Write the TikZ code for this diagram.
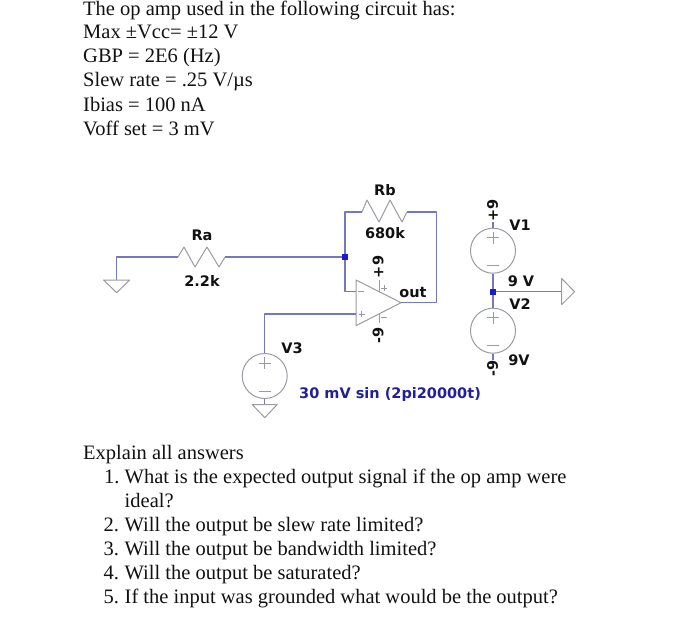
\documentclass[tikz,border=0pt]{standalone}
\usepackage{fontspec}
\usetikzlibrary{calc}
\setmainfont{Liberation Serif}
\newfontfamily\spicefont{DejaVu Sans}
\definecolor{wirec}{HTML}{7478BE}
\definecolor{compc}{HTML}{9A9AA2}
\definecolor{dotc}{HTML}{1A1AD0}
\definecolor{navyt}{HTML}{20209A}
\definecolor{inkt}{HTML}{111111}
\tikzset{
  x=1pt,y=-1pt,
  wire/.style={draw=wirec,line width=1.2pt,line join=round},
  comp/.style={draw=compc,line width=1pt,line join=round},
  junction/.style={fill=dotc,draw=none,minimum size=6pt,inner sep=0pt,rectangle},
  prose/.style={anchor=base west,inner sep=0pt,font=\fontsize{20.5}{24}\selectfont,text=inkt},
  lbl/.style={inner sep=0pt,font=\spicefont\bfseries\fontsize{14.5}{16}\selectfont,text=inkt},
  src/.style={circle,draw=compc,line width=1pt,minimum size=45pt,inner sep=0pt},
}
\begin{document}
\begin{tikzpicture}
\useasboundingbox (0,0) rectangle (700,623);
% prose
\node[prose] (t1) at (83,15.5) {The op amp used in the following circuit has:};
\node[prose] (t2) at (83,38.3) {Max ±Vcc= ±12 V};
\node[prose] (t3) at (83,62.5) {GBP = 2E6 (Hz)};
\node[prose] (t4) at (83,86.7) {Slew rate = .25 V/µs};
\node[prose] (t5) at (83,111) {Ibias = 100 nA};
\node[prose] (t6) at (83,135) {Voff set = 3 mV};
\node[prose] (e0) at (83,459) {Explain all answers};
\node[prose] (e1) at (104,483) {1.};
\node[prose] (e1a) at (124.5,483) {What is the expected output signal if the op amp were};
\node[prose] (e1b) at (124.5,507.5) {ideal?};
\node[prose] (e2) at (103.5,531.5) {2.};
\node[prose] (e2a) at (124.5,531.5) {Will the output be slew rate limited?};
\node[prose] (e3) at (103.5,555.7) {3.};
\node[prose] (e3a) at (124.5,555.7) {Will the output be bandwidth limited?};
\node[prose] (e4) at (103.5,579.5) {4.};
\node[prose] (e4a) at (124.5,579.5) {Will the output be saturated?};
\node[prose] (e5) at (103.5,603.5) {5.};
\node[prose] (e5a) at (124.5,603.5) {If the input was grounded what would be the output?};
% coordinates
\coordinate (gl) at (116.7,280);
\coordinate (raL) at (178,257);
\coordinate (raR) at (225,257);
\coordinate (rbL) at (362,212);
\coordinate (rbR) at (407,212);
\coordinate (inv) at (356,291.7);
\coordinate (noninv) at (356,314);
\coordinate (tip) at (401,302.7);
\coordinate (gv3) at (264.7,404.5);
\coordinate (gr) at (561.7,291.7);
\node[junction] (j1) at (345,257) {};
\node[junction] (j2) at (493,291.7) {};
% sources
\node[src] (v3) at (264.7,376) {};
\node[src] (v1) at (493,250.7) {};
\node[src] (v2) at (493,330.7) {};
\foreach \s in {v3,v1,v2}{
  \draw[comp] ($(\s.center)+(-6,-13)$) -- +(12,0) ($(\s.center)+(0,-19)$) -- +(0,12) ($(\s.center)+(-6,15)$) -- +(12,0);
}
% op amp
\draw[comp] (356,280) -- (tip) -- (356,325.7) -- cycle;
\draw[comp] (358,291.7) -- +(6,0) (358.5,314) -- +(6,0) (361.5,311) -- +(0,6);
\draw[comp] (379.3,280) -- (379.3,291.5) (379.3,313.5) -- (379.3,323);
\draw[comp] (381,288) -- +(6,0) (384,285) -- +(0,6) (381,317) -- +(6,0);
% wires
\draw[wire] (gl) -- (116.7,257) -- (raL);
\draw[wire] (raR) -- (j1);
\draw[wire] (j1) -- (345,212) -- (rbL);
\draw[wire] (j1) -- (345,291.7) -- (inv);
\draw[wire] (rbR) -- (436.7,212) -- (436.7,302.7) -- (tip);
\draw[wire] (noninv) -- (264.7,314) -- (v3.north);
\draw[wire] (v3.south) -- (gv3);
\draw[wire] (v1.south) -- (j2);
\draw[wire] (j2) -- (v2.north);
\draw[wire] (j2) -- (gr);
\draw[wire] (v1.north) -- (493,222);
\draw[wire] (v2.south) -- (493,360);
% resistors
\draw[comp] (raL) -- (184,247) -- (195,267) -- (207,247) -- (219,267) -- (raR);
\draw[comp] (rbL) -- (367,200) -- (379,222) -- (390,200) -- (402,222) -- (rbR);
% grounds
\draw[comp] (103.5,280) -- (129.7,280) -- (116.7,292.7) -- cycle;
\draw[comp] (252.2,404.5) -- (277.2,404.5) -- (264.7,417.7) -- cycle;
\draw[comp] (561.7,278.5) -- (561.7,304.5) -- (574.5,291.7) -- cycle;
% labels
\node[lbl] (lRb) at (385,190) {Rb};
\node[lbl] (l680) at (385,233) {680k};
\node[lbl] (lRa) at (202,235) {Ra};
\node[lbl] (l22) at (202,281) {2.2k};
\node[lbl] (lout) at (413,293) {out};
\node[lbl] (lV3) at (292,348) {V3};
\node[lbl] (lV1) at (520,225) {V1};
\node[lbl] (l9V) at (521,281) {9 V};
\node[lbl] (lV2) at (520,304) {V2};
\node[lbl] (l9v) at (519,360) {9V};
\node[lbl,rotate=90] (p1) at (492.5,210.5) {+9};
\node[lbl,rotate=90] (m1) at (492.5,368.5) {-9};
\node[lbl,rotate=90] (p2) at (378,267) {+9};
\node[lbl,rotate=90] (m2) at (378,335) {-9};
\node[lbl,text=navyt,anchor=west] (sinl) at (299,394) {30 mV sin (2pi20000t)};
\end{tikzpicture}
\end{document}
